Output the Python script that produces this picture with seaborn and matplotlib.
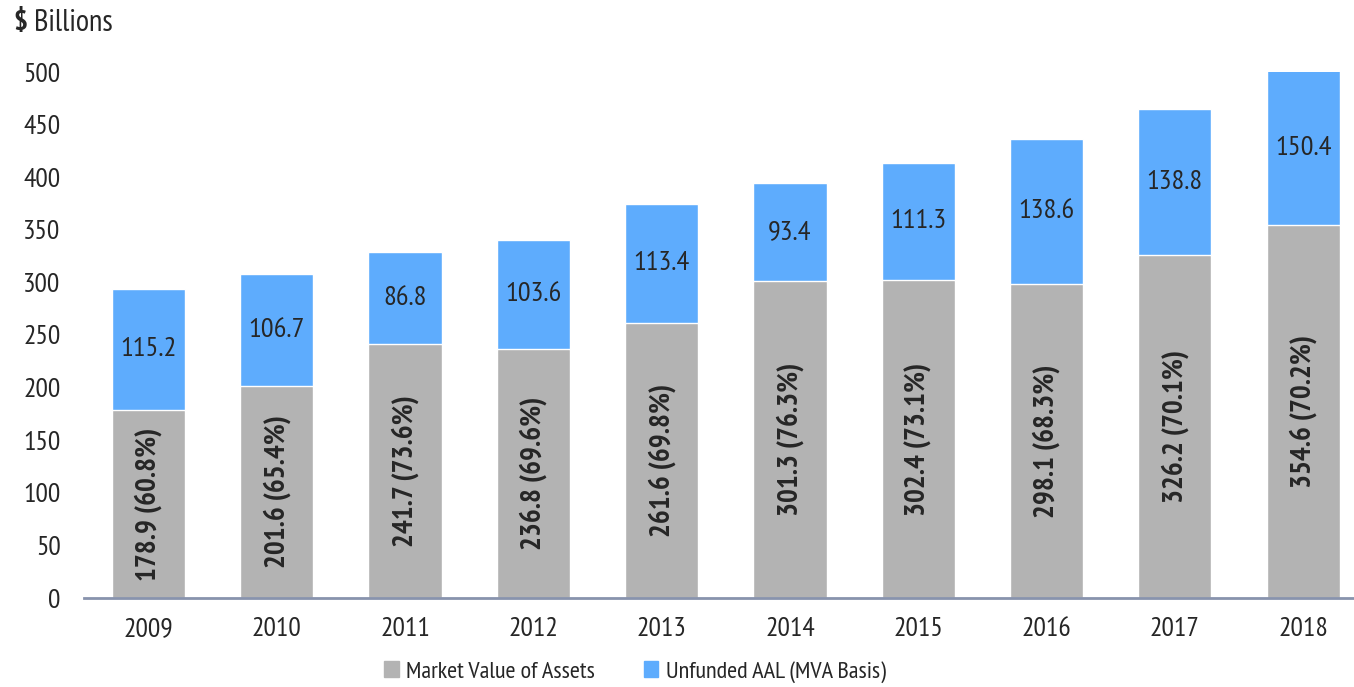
import pandas as pd
import matplotlib.pyplot as plt
import seaborn as sns
from matplotlib.patches import Patch

years = ["2009", "2010", "2011", "2012", "2013", "2014", "2015", "2016", "2017", "2018"]
assets = [178.9, 201.6, 241.7, 236.8, 261.6, 301.3, 302.4, 298.1, 326.2, 354.6]
funded_pct = [60.8, 65.4, 73.6, 69.6, 69.8, 76.3, 73.1, 68.3, 70.1, 70.2]
unfunded = [115.2, 106.7, 86.8, 103.6, 113.4, 93.4, 111.3, 138.6, 138.8, 150.4]

GRAY = "#b3b3b3"
BLUE = "#5eacfd"
NARROW = ["PT Sans Narrow", "DejaVu Sans"]

sns.set_style("white")
plt.rcParams["font.family"] = NARROW

df = pd.DataFrame({"year": years, "assets": assets, "unfunded": unfunded})
df["total"] = df["assets"] + df["unfunded"]

fig = plt.figure(figsize=(13.54, 6.87), dpi=100)
ax = fig.add_axes([84.3 / 1354, 89 / 687, (1354 - 84.3) / 1354, 526 / 687])

sns.barplot(data=df, x="year", y="total", color=BLUE, width=0.57, saturation=1, ax=ax)
sns.barplot(data=df, x="year", y="assets", color=GRAY, width=0.57, saturation=1, ax=ax)

ax.set_ylim(0, 500)
ax.set_xlim(-0.5, (1354 - 148.5) / 128.3)
ax.set_yticks(range(0, 501, 50))
ax.set_xlabel("")
ax.set_ylabel("")
ax.tick_params(axis="both", length=0, labelsize=20)
ax.tick_params(axis="y", pad=17)
ax.tick_params(axis="x", pad=14)

for s in ["left", "right", "top"]:
    ax.spines[s].set_visible(False)
ax.spines["bottom"].set_color("#8893ad")
ax.spines["bottom"].set_linewidth(2)

for i in range(len(years)):
    ax.text(i, assets[i] / 2, f"{assets[i]:.1f} ({funded_pct[i]:.1f}%)",
            rotation=90, ha="center", va="center", fontsize=21, fontweight="bold")
    top = min(assets[i] + unfunded[i], 500)
    ax.text(i, (assets[i] + top) / 2, f"{unfunded[i]:.1f}",
            ha="center", va="center", fontsize=20.5)

fig.text(13 / 1354, 1 - 23 / 687, "$", fontsize=21, fontweight="bold",
         ha="left", va="center")
fig.text(34 / 1354, 1 - 23 / 687, "Billions", fontsize=22, ha="left", va="center")

handles = [Patch(color=GRAY, label="Market Value of Assets"),
           Patch(color=BLUE, label="Unfunded AAL (MVA Basis)")]
fig.legend(handles=handles, loc="center", bbox_to_anchor=(0.469, 1 - 672 / 687), ncol=2,
           frameon=False, fontsize=17.5, handlelength=0.6, handleheight=0.6,
           handletextpad=0.3, columnspacing=2.0)

fig.savefig("out.png", dpi=100)
